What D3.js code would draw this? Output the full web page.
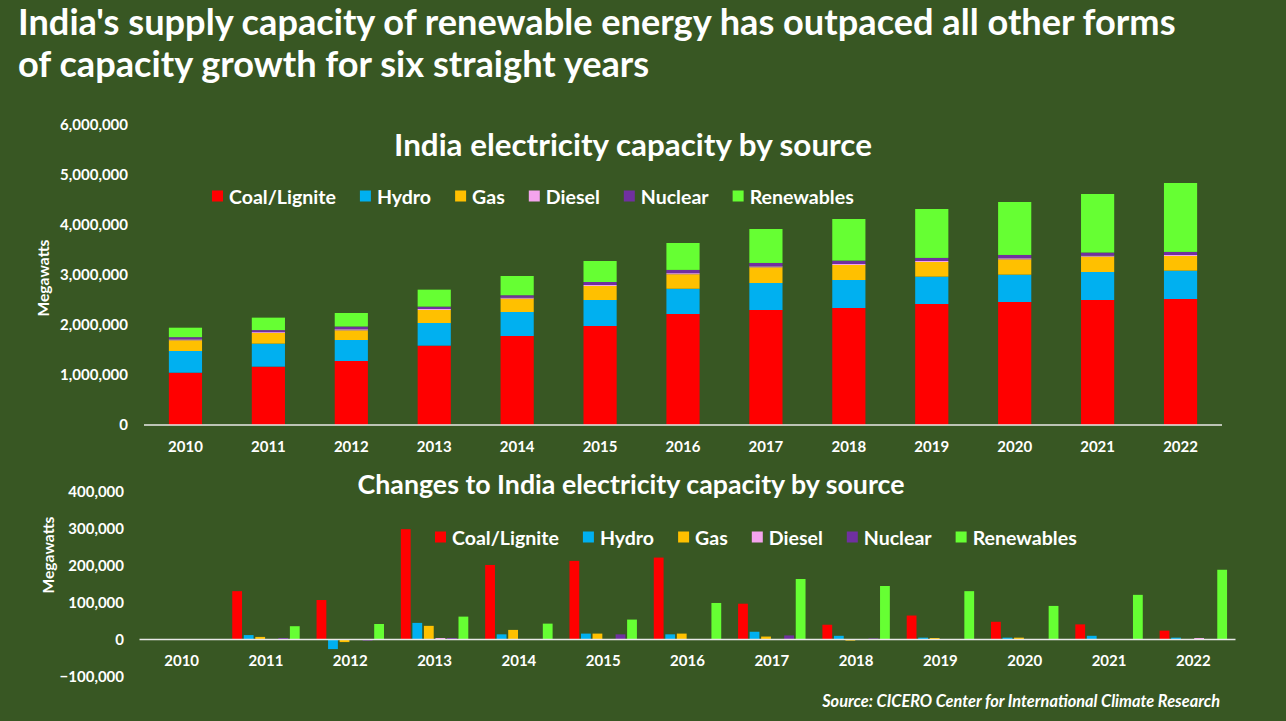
<!DOCTYPE html>
<html>
<head>
<meta charset="utf-8">
<script src="https://cdn.jsdelivr.net/npm/d3@7"></script>
<style>
  html, body { margin: 0; padding: 0; background: #385723; }
  svg { display: block; }
  text { font-family: Lato, "Open Sans", sans-serif; font-weight: bold; fill: #ffffff; }
</style>
</head>
<body>
<svg id="chart" width="1286" height="721"></svg>
<script>
// ---------------- DATA ----------------
const years = ["2010","2011","2012","2013","2014","2015","2016","2017","2018","2019","2020","2021","2022"];
const seriesNames = ["Coal/Lignite","Hydro","Gas","Diesel","Nuclear","Renewables"];
const seriesColors = ["#FF0000","#00B0F0","#FFC000","#F4A4EE","#7030A0","#66FF33"];

// Capacity (MW) — top stacked chart
const coal      = [1046000,1167000,1280000,1587000,1780000,1980000,2220000,2300000,2340000,2420000,2460000,2500000,2520000];
const hydro     = [ 434000, 460000, 420000, 453000, 480000, 520000, 505000, 540000, 560000, 547000, 547000, 560000, 567000];
const gas       = [ 214000, 213000, 193000, 260000, 267000, 280000, 290000, 313000, 300000, 293000, 306000, 307000, 293000];
const diesel    = [  18000,  18000,  22000,  20000,  20000,  20000,  22000,  20000,  20000,  20000,  22000,  20000,  20000];
const nuclear   = [  45000,  40000,  55000,  48000,  48000,  60000,  65000,  68000,  68000,  62000,  66000,  62000,  62000];
const renew     = [ 189000, 249000, 270000, 339000, 385000, 420000, 538000, 679000, 832000, 978000,1059000,1171000,1378000];

// Changes (MW) — bottom grouped chart
const coalChg    = [0,131000,107000,299000,202000,213000,222000, 97000, 40000, 65000, 48000, 41000, 24000];
const hydroChg   = [0, 12000,-26000, 45000, 14000, 16000, 14000, 21000, 10000,  5000,  5000, 10000,  5000];
const gasChg     = [0,  7000, -7000, 37000, 26000, 16000, 16000,  8000, -3000,  4000,  5000,  1000,  1000];
const dieselChg  = [0,  1000,  1000,  4000,   500,  1000,  1000,  1000,  1000,  1000,  1000,     0,  4000];
const nuclearChg = [0,  4000, -3000,  4000,     0, 14000,     0, 11000,  3000,     0,     0,     0,     0];
const renewChg   = [0, 36000, 42000, 62000, 43000, 54000, 99000,164000,145000,131000, 91000,121000,189000];

const topTicks = [0,1000000,2000000,3000000,4000000,5000000,6000000];
const bottomTicks = [-100000,0,100000,200000,300000,400000];

const mainTitle = ["India's supply capacity of renewable energy has outpaced all other forms",
                   "of capacity growth for six straight years"];
const topTitle = "India electricity capacity by source";
const bottomTitle = "Changes to India electricity capacity by source";
const yLabel = "Megawatts";
const sourceText = "Source: CICERO Center for International Climate Research";

// ---------------- HELPERS ----------------
const svg = d3.select("#chart");
const fmt = d3.format(",");

function fitSize(sample, targetWidth, base, italic) {
  const t = svg.append("text").attr("font-size", base).text(sample);
  if (italic) t.attr("font-style", "italic");
  const w = t.node().getComputedTextLength();
  t.remove();
  return base * targetWidth / w;
}

// ---------------- TITLE ----------------
const titleSize = fitSize(mainTitle[0], 1158, 30);
svg.append("text").attr("x", 18).attr("y", 35).attr("font-size", titleSize).text(mainTitle[0]);
svg.append("text").attr("x", 18).attr("y", 77).attr("font-size", titleSize).text(mainTitle[1]);

// ---------------- TOP CHART ----------------
const xTop = d3.scaleBand().domain(years).range([144, 1222]).paddingInner(0.6).paddingOuter(0.3);
const yTop = d3.scaleLinear().domain([0, 6000000]).range([425, 125]);

const topRows = years.map((y, i) => ({
  year: y, "Coal/Lignite": coal[i], "Hydro": hydro[i], "Gas": gas[i],
  "Diesel": diesel[i], "Nuclear": nuclear[i], "Renewables": renew[i]
}));
const stack = d3.stack().keys(seriesNames)(topRows);

svg.append("g").selectAll("g").data(stack).join("g")
  .attr("fill", (d, i) => seriesColors[i])
  .selectAll("rect").data(d => d).join("rect")
  .attr("x", d => xTop(d.data.year))
  .attr("width", xTop.bandwidth())
  .attr("y", d => yTop(d[1]))
  .attr("height", d => yTop(d[0]) - yTop(d[1]));

// axis line
svg.append("line").attr("x1", 144).attr("x2", 1222).attr("y1", yTop(0)).attr("y2", yTop(0))
  .attr("stroke", "#e8e8e8").attr("stroke-width", 1.5);

// y axis
const yAxisTop = d3.axisLeft(yTop).tickValues(topTicks).tickFormat(fmt).tickSize(0).tickPadding(0);
const gyt = svg.append("g").attr("transform", "translate(128,0)").call(yAxisTop);
gyt.select(".domain").remove();
gyt.selectAll("text").attr("font-size", 15).attr("fill", "#fff")
  .attr("font-family", "Lato, sans-serif").attr("font-weight", "bold");

// x axis
const xAxisTop = d3.axisBottom(xTop).tickSize(0).tickPadding(0);
const gxt = svg.append("g").attr("transform", "translate(0,447)").call(xAxisTop);
gxt.select(".domain").remove();
gxt.selectAll("text").attr("font-size", 15).attr("fill", "#fff").attr("dy", "0.35em")
  .attr("font-family", "Lato, sans-serif").attr("font-weight", "bold");

// y label
svg.append("text").attr("transform", "translate(43,278) rotate(-90)")
  .attr("text-anchor", "middle").attr("dominant-baseline", "central")
  .attr("font-size", fitSize(yLabel, 77, 14)).text(yLabel);

// chart title
svg.append("text").attr("x", 633).attr("y", 156).attr("text-anchor", "middle")
  .attr("font-size", fitSize(topTitle, 478, 26)).text(topTitle);

// legend
const legendSize = fitSize("Coal/Lignite", 107, 18);
function drawLegend(x0, yc) {
  let x = x0;
  const g = svg.append("g");
  seriesNames.forEach((name, i) => {
    g.append("rect").attr("x", x).attr("y", yc - 5.5).attr("width", 11).attr("height", 11)
      .attr("fill", seriesColors[i]);
    const t = g.append("text").attr("x", x + 17).attr("y", yc).attr("dominant-baseline", "central")
      .attr("font-size", legendSize).text(name);
    x += 17 + t.node().getComputedTextLength() + 24;
  });
}
drawLegend(212, 196);

// ---------------- BOTTOM CHART ----------------
const x0 = d3.scaleBand().domain(years).range([139.5, 1235.5]).paddingInner(0.2).paddingOuter(0.1);
const x1 = d3.scaleBand().domain(seriesNames).range([0, x0.bandwidth()]).paddingInner(0.15).paddingOuter(0);
const yBot = d3.scaleLinear().domain([-100000, 400000]).range([676.4, 491.9]);

const chgSeries = [coalChg, hydroChg, gasChg, dieselChg, nuclearChg, renewChg];
const chgRows = [];
years.forEach((y, i) => seriesNames.forEach((s, j) => chgRows.push({year: y, series: s, idx: j, value: chgSeries[j][i]})));

svg.append("g").selectAll("rect").data(chgRows).join("rect")
  .attr("x", d => x0(d.year) + x1(d.series))
  .attr("width", x1.bandwidth())
  .attr("y", d => yBot(Math.max(0, d.value)))
  .attr("height", d => Math.abs(yBot(d.value) - yBot(0)))
  .attr("fill", d => seriesColors[d.idx]);

svg.append("line").attr("x1", 139.5).attr("x2", 1235.5).attr("y1", yBot(0)).attr("y2", yBot(0))
  .attr("stroke", "#e8e8e8").attr("stroke-width", 1.5);

const yAxisBot = d3.axisLeft(yBot).tickValues(bottomTicks).tickFormat(fmt).tickSize(0).tickPadding(0);
const gyb = svg.append("g").attr("transform", "translate(124,0)").call(yAxisBot);
gyb.select(".domain").remove();
gyb.selectAll("text").attr("font-size", 15).attr("fill", "#fff")
  .attr("font-family", "Lato, sans-serif").attr("font-weight", "bold");

const xAxisBot = d3.axisBottom(x0).tickSize(0).tickPadding(0);
const gxb = svg.append("g").attr("transform", "translate(0,661)").call(xAxisBot);
gxb.select(".domain").remove();
gxb.selectAll("text").attr("font-size", 15).attr("fill", "#fff").attr("dy", "0.35em")
  .attr("font-family", "Lato, sans-serif").attr("font-weight", "bold");

svg.append("text").attr("transform", "translate(48,555) rotate(-90)")
  .attr("text-anchor", "middle").attr("dominant-baseline", "central")
  .attr("font-size", fitSize(yLabel, 77, 14)).text(yLabel);

svg.append("text").attr("x", 631).attr("y", 494).attr("text-anchor", "middle")
  .attr("font-size", fitSize(bottomTitle, 547, 24)).text(bottomTitle);

drawLegend(435, 537);

// source
svg.append("text").attr("x", 1220).attr("y", 707).attr("text-anchor", "end")
  .attr("font-style", "italic")
  .attr("font-size", fitSize(sourceText, 398, 14, true)).text(sourceText);
</script>
</body>
</html>
